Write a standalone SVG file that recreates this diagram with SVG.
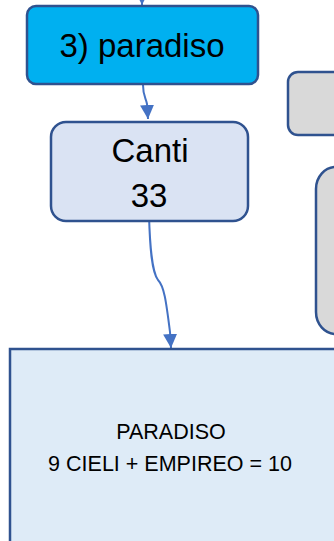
<svg xmlns="http://www.w3.org/2000/svg" width="334" height="541" viewBox="0 0 334 541">
<style>
.box{stroke:#2F528F;stroke-width:2.5}
.t{font-family:"Liberation Sans",Arial,sans-serif;fill:#000;text-anchor:middle}
.c{fill:none;stroke:#4472C4;stroke-width:2}
</style>
<defs>
<marker id="ah" viewBox="0 0 10 10" refX="10" refY="5" markerWidth="7" markerHeight="7" markerUnits="strokeWidth" orient="auto">
<path d="M0,0 L10,5 L0,10 z" fill="#4472C4"/>
</marker>
</defs>
<g id="connectors">
<path class="c" d="M142,-10 L142,5" marker-end="url(#ah)"/>
<path class="c" d="M143,85 C143,96 146,98 147,104 L148,119" marker-end="url(#ah)"/>
<path class="c" d="M149,215 C150,250 152,272 158,280 C164,286 166,300 170,332 L171,348" marker-end="url(#ah)"/>
</g>
<g id="gray1"><rect class="box" x="288" y="72" width="60" height="63" rx="10" fill="#D9D9D9"/></g>
<g id="gray2"><rect class="box" x="316" y="167" width="40" height="167" rx="22" fill="#D9D9D9"/></g>
<g id="paradiso">
<rect class="box" x="27" y="6" width="231" height="78" rx="9" fill="#00B0F0"/>
<text class="t" x="142" y="57" font-size="33">3) paradiso</text>
</g>
<g id="canti">
<rect class="box" x="51" y="122" width="197" height="99" rx="15" fill="#DAE3F3"/>
<text class="t" x="150" y="162" font-size="33">Canti</text>
<text class="t" x="149" y="207" font-size="33">33</text>
</g>
<g id="paradiso-box">
<rect class="box" x="10" y="349" width="340" height="210" fill="#DEEBF7"/>
<text class="t" x="171" y="439" font-size="21.5">PARADISO</text>
<text class="t" x="170" y="471" font-size="21.5">9 CIELI + EMPIREO = 10</text>
</g>
</svg>
